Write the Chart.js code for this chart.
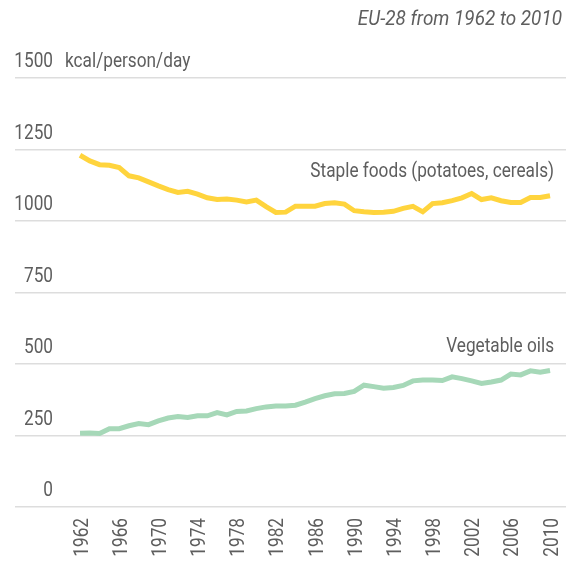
<!DOCTYPE html>
<html>
<head>
<meta charset="utf-8">
<script src="https://cdn.jsdelivr.net/npm/chart.js@4"></script>
<style>
  html, body { margin: 0; padding: 0; background: #fff; }
  #wrap { width: 566px; height: 561px; position: relative; }
</style>
</head>
<body>
<div id="wrap"><canvas id="foodChart"></canvas></div>
<script>
const years = [];
for (let y = 1962; y <= 2010; y++) years.push(y);

const stapleFoods = [1230, 1210, 1197, 1195, 1187, 1158, 1151, 1137, 1123, 1110,
    1100, 1104, 1094, 1081, 1075, 1077, 1073, 1067, 1073, 1050,
    1030, 1031, 1052, 1052, 1052, 1061, 1064, 1059, 1036, 1032,
    1030, 1031, 1034, 1044, 1051, 1032, 1061, 1064, 1071, 1081,
    1096, 1075, 1081, 1071, 1065, 1065, 1082, 1082, 1088];

const vegetableOils = [258, 259, 257, 274, 274, 284, 292, 288, 301, 311,
    316, 313, 319, 319, 330, 322, 334, 336, 344, 350,
    353, 353, 356, 367, 379, 389, 396, 397, 404, 426,
    421, 415, 418, 425, 441, 444, 444, 442, 455, 449,
    441, 432, 437, 444, 465, 462, 476, 471, 477];

const yTicks = [0, 250, 500, 750, 1000, 1250, 1500];
const xTickYears = [1962, 1966, 1970, 1974, 1978, 1982, 1986, 1990, 1994, 1998, 2002, 2006, 2010];

const FONT = "Roboto, 'Open Sans', sans-serif";
const TEXT = '#5e5e5e';
const K = 0.82; // the original font is condensed

// text drawn with a horizontal squeeze
function narrowText(ctx, txt, x, y, align, k) {
    const w = ctx.measureText(txt).width * k;
    const left = align === 'right' ? x - w : x;
    ctx.save();
    ctx.textAlign = 'left';
    ctx.translate(left, y);
    ctx.scale(k, 1);
    ctx.fillText(txt, 0, 0);
    ctx.restore();
}

const labelsPlugin = {
    id: 'labels',
    afterDraw(chart) {
        const ctx = chart.ctx;
        const y = chart.scales.y;
        const x = chart.scales.x;
        ctx.save();
        ctx.fillStyle = TEXT;
        ctx.font = '21px ' + FONT;
        ctx.textBaseline = 'alphabetic';

        // y tick labels sit above their gridlines
        yTicks.forEach(v => narrowText(ctx, String(v), 53, y.getPixelForValue(v) - 11, 'right', K));
        narrowText(ctx, 'kcal/person/day', 65, y.getPixelForValue(1500) - 11, 'left', K);

        // year labels, rotated to read upward
        xTickYears.forEach(yr => {
            ctx.save();
            ctx.translate(x.getPixelForValue(yr) + 7.5, chart.chartArea.bottom + 11);
            ctx.rotate(-Math.PI / 2);
            narrowText(ctx, String(yr), 0, 0, 'right', K);
            ctx.restore();
        });

        const right = x.getPixelForValue(2010) + 4;
        narrowText(ctx, 'Staple foods (potatoes, cereals)', right, y.getPixelForValue(1155), 'right', K);
        narrowText(ctx, 'Vegetable oils', right, y.getPixelForValue(541), 'right', K);
        ctx.font = 'italic 21px ' + FONT;
        narrowText(ctx, 'EU-28 from 1962 to 2010', 562, 25, 'right', 0.9);
        ctx.restore();
    }
};

new Chart(document.getElementById('foodChart'), {
    type: 'line',
    data: {
        datasets: [
            {
                label: 'Staple foods (potatoes, cereals)',
                data: years.map((yr, i) => ({ x: yr, y: stapleFoods[i] })),
                borderColor: '#ffd43d',
                borderWidth: 5,
                pointRadius: 0,
                tension: 0,
                fill: false
            },
            {
                label: 'Vegetable oils',
                data: years.map((yr, i) => ({ x: yr, y: vegetableOils[i] })),
                borderColor: '#a6d8b8',
                borderWidth: 5,
                pointRadius: 0,
                tension: 0,
                fill: false
            }
        ]
    },
    options: {
        responsive: true,
        maintainAspectRatio: false,
        animation: false,
        layout: { padding: { left: 15, right: 0, top: 78, bottom: 0 } },
        plugins: { legend: { display: false }, tooltip: { enabled: false } },
        scales: {
            x: {
                type: 'linear',
                min: 1955.36,
                max: 2011.63,
                afterBuildTicks: s => { s.ticks = xTickYears.map(v => ({ value: v })); },
                afterFit: s => { s.height = 54; s.paddingLeft = 0; s.paddingRight = 0; },
                grid: { display: false },
                border: { display: false },
                ticks: { display: false }
            },
            y: {
                min: 0,
                max: 1500,
                afterBuildTicks: s => { s.ticks = yTicks.map(v => ({ value: v })); },
                afterFit: s => { s.width = 0; s.paddingTop = 0; s.paddingBottom = 0; },
                border: { display: false },
                grid: { color: '#dddddd', lineWidth: 1.5, drawTicks: false },
                ticks: { display: false }
            }
        }
    },
    plugins: [labelsPlugin]
});
</script>
</body>
</html>
